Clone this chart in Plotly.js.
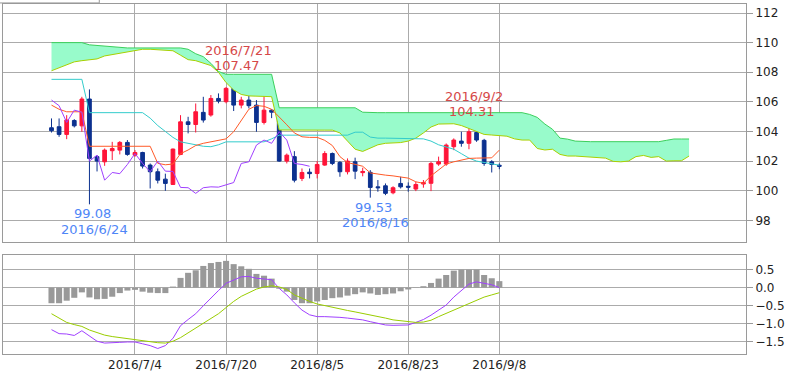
<!DOCTYPE html>
<html><head><meta charset="utf-8">
<script src="https://cdn.plot.ly/plotly-3.0.1.min.js"></script>
<style>html,body{margin:0;padding:0;background:#fff}#chart{width:793px;height:372px}</style>
</head><body><div id="chart"></div>
<script>
const dates = ['2016/6/17','2016/6/20','2016/6/21','2016/6/22','2016/6/23','2016/6/24','2016/6/27','2016/6/28','2016/6/29','2016/6/30',
 '2016/7/1','2016/7/4','2016/7/5','2016/7/6','2016/7/7','2016/7/8','2016/7/11','2016/7/12','2016/7/13','2016/7/14',
 '2016/7/15','2016/7/18','2016/7/19','2016/7/20','2016/7/21','2016/7/22','2016/7/25','2016/7/26','2016/7/27','2016/7/28',
 '2016/7/29','2016/8/1','2016/8/2','2016/8/3','2016/8/4','2016/8/5','2016/8/8','2016/8/9','2016/8/10','2016/8/11',
 '2016/8/12','2016/8/15','2016/8/16','2016/8/17','2016/8/18','2016/8/19','2016/8/22','2016/8/23','2016/8/24','2016/8/25',
 '2016/8/26','2016/8/29','2016/8/30','2016/8/31','2016/9/1','2016/9/2','2016/9/5','2016/9/6','2016/9/7','2016/9/8'];
const futureDates = ['2016/9/9','2016/9/12','2016/9/13','2016/9/14','2016/9/15','2016/9/16','2016/9/19','2016/9/20','2016/9/21','2016/9/22',
 '2016/9/23','2016/9/26','2016/9/27','2016/9/28','2016/9/29','2016/9/30','2016/10/3','2016/10/4','2016/10/5','2016/10/6',
 '2016/10/7','2016/10/10','2016/10/11','2016/10/12','2016/10/13'];

const open = [104.25,104.32,103.8,104.74,104.38,106.19,102.3,101.95,102.7,102.74,
 103.26,102.4,102.58,101.73,101.28,100.78,100.42,102.45,104.65,104.47,
 105.29,105.11,106.23,106.01,106.91,105.78,106.12,105.78,104.61,105.44,
 105.3,102.0,102.3,100.83,101.25,101.16,101.73,102.51,101.91,101.28,
 101.95,101.22,101.24,100.26,100.33,99.86,100.49,100.3,100.11,100.45,
 100.5,101.8,101.8,102.97,103.35,103.2,103.93,103.4,101.95,101.72];
const high = [104.88,104.88,105.1,104.83,106.34,106.84,102.4,102.85,103.3,103.35,
 103.42,102.74,102.63,101.84,101.5,101.15,102.85,105.1,104.99,105.89,
 106.34,106.46,106.57,107.0,107.47,106.34,106.68,106.12,106.46,105.51,
 105.38,102.51,102.67,101.5,101.5,102.0,102.67,102.58,102.0,102.18,
 102.23,101.55,101.39,100.72,100.49,100.3,100.94,100.56,100.6,100.72,
 101.95,102.3,103.19,103.53,103.98,104.31,104.1,103.5,102.06,101.84];
const low = [103.93,103.64,103.48,104.27,103.98,99.08,101.3,101.68,102.07,102.45,
 102.36,102.29,101.5,100.15,100.49,99.99,100.4,102.4,103.87,103.93,
 104.6,105.0,105.9,105.9,105.38,105.56,105.56,103.98,104.47,104.9,
 101.95,101.84,100.56,100.65,100.83,100.83,101.68,101.73,100.94,101.1,
 100.78,100.97,99.53,99.93,99.7,99.76,100.15,99.93,99.97,100.2,
 99.97,101.68,101.68,102.74,102.97,102.8,103.3,101.68,101.23,101.45];
const close = [104.05,103.8,104.77,104.38,106.19,102.18,102.0,102.74,102.85,103.26,
 102.45,102.58,101.66,101.28,100.71,100.49,102.81,104.65,104.47,105.33,
 104.77,106.23,106.05,106.91,105.78,106.12,105.74,104.61,105.44,105.3,
 102.0,102.4,100.71,101.23,101.15,101.77,102.51,101.84,101.28,102.0,
 101.32,101.3,100.22,100.2,99.82,100.2,100.26,100.24,100.42,100.55,
 101.84,101.95,103.08,103.42,103.2,103.98,103.42,101.84,101.77,101.65];

const conversionLine = [105.78,105.5,105.33,105.33,105.33,103.0,103.0,103.0,103.0,103.0,
 103.0,103.0,103.0,103.0,101.85,101.75,101.8,102.5,102.75,103.05,
 103.2,103.3,103.35,103.5,103.98,104.77,105.5,105.75,105.7,105.5,
 105.0,104.45,103.9,103.64,103.6,103.6,103.4,103.05,102.3,101.9,
 101.78,101.65,101.2,101.1,101.05,101.0,100.94,100.85,100.6,100.5,
 101.0,101.4,101.8,101.95,102.06,102.18,102.2,102.22,102.22,102.74];
const baseLine = [107.52,107.52,107.52,107.52,107.52,105.27,105.27,105.27,105.27,105.27,
 105.27,105.27,105.27,104.9,104.4,104.0,103.6,103.3,103.2,103.1,
 103.0,102.97,103.1,103.3,103.3,103.3,103.3,103.3,103.3,103.5,
 103.75,103.75,103.75,103.75,103.75,103.75,103.75,103.75,103.75,103.75,
 103.95,103.95,103.62,103.55,103.55,103.55,103.55,103.55,103.55,103.5,
 103.35,103.1,102.95,102.8,102.5,102.2,102.0,101.9,101.82,101.72];
const laggingSpan = [106.12,105.74,104.61,105.44,105.3,102.0,102.4,100.71,101.23,101.15,
 101.77,102.51,101.84,101.28,102.0,101.32,101.3,100.22,100.2,99.82,
 100.2,100.26,100.24,100.42,100.55,101.84,101.95,103.08,103.42,103.2,
 103.98,103.42,101.84,101.77,101.65];
const leadingSpanA = [110.0,110.0,110.0,110.0,110.0,109.85,109.8,109.75,109.7,109.65,
 109.64,109.64,109.64,109.64,109.64,109.64,109.64,109.64,109.55,109.25,
 109.05,108.6,108.05,107.86,107.86,107.86,107.86,107.86,107.86,107.86,
 105.6,105.6,105.6,105.6,105.6,105.6,105.6,105.6,105.6,105.6,
 105.6,105.3,105.27,105.27,105.27,105.27,105.27,105.27,105.27,105.27,
 105.27,105.27,105.27,105.27,105.27,105.27,105.27,105.27,105.27,105.27,
 105.27,105.27,105.27,105.15,104.95,104.5,104.15,103.55,103.48,103.35,
 103.31,103.31,103.31,103.31,103.31,103.31,103.31,103.31,103.31,103.31,
 103.31,103.4,103.49,103.49,103.49];
const leadingSpanB = [108.1,108.3,108.55,108.7,108.78,108.82,108.9,109.1,109.2,109.27,
 109.4,109.5,109.55,109.55,109.52,109.5,109.45,109.15,108.85,108.78,
 108.62,108.45,108.0,107.3,106.8,106.5,106.4,106.4,106.4,106.35,
 104.1,104.09,104.09,104.09,104.09,104.09,104.09,104.09,103.9,103.35,
 102.8,102.65,102.9,103.1,103.2,103.2,103.25,103.35,103.55,103.9,
 104.3,104.5,104.52,104.52,104.4,104.2,103.95,103.8,103.76,103.72,
 103.68,103.5,103.42,103.42,102.85,102.75,102.8,102.45,102.34,102.34,
 102.3,102.25,102.25,102.2,101.98,101.95,102.0,102.3,102.38,102.25,
 102.3,102.0,102.02,102.02,102.34];

const macdHist = [-0.43,-0.43,-0.36,-0.28,-0.13,-0.27,-0.32,-0.31,-0.25,-0.15,
 -0.08,-0.06,-0.11,-0.14,-0.15,-0.15,0.03,0.27,0.41,0.48,
 0.6,0.68,0.71,0.74,0.65,0.59,0.52,0.38,0.33,0.25,
 -0.03,-0.11,-0.34,-0.43,-0.43,-0.38,-0.34,-0.29,-0.27,-0.22,
 -0.18,-0.13,-0.16,-0.2,-0.18,-0.16,-0.1,-0.05,-0.01,0.04,
 0.13,0.25,0.35,0.47,0.5,0.5,0.5,0.35,0.26,0.18];
const macdLine = [-1.16,-1.27,-1.28,-1.32,-1.19,-1.33,-1.48,-1.53,-1.53,-1.51,
 -1.5,-1.5,-1.55,-1.6,-1.68,-1.6,-1.4,-1.05,-0.88,-0.72,
 -0.5,-0.28,-0.08,0.12,0.22,0.3,0.31,0.26,0.24,0.22,
 -0.02,-0.2,-0.42,-0.62,-0.75,-0.8,-0.8,-0.8,-0.82,-0.84,
 -0.86,-0.89,-0.94,-0.99,-1.03,-1.04,-1.03,-1.03,-0.96,-0.88,
 -0.76,-0.63,-0.48,-0.26,-0.08,0.1,0.16,0.11,0.08,0.0];
const signalLine = [-0.72,-0.85,-0.96,-1.02,-1.07,-1.17,-1.24,-1.31,-1.35,-1.38,
 -1.41,-1.44,-1.47,-1.49,-1.52,-1.53,-1.48,-1.38,-1.25,-1.12,
 -1.0,-0.85,-0.72,-0.55,-0.38,-0.24,-0.13,-0.04,0.02,0.05,
 0.02,-0.05,-0.2,-0.3,-0.38,-0.45,-0.5,-0.55,-0.59,-0.63,
 -0.67,-0.71,-0.75,-0.78,-0.84,-0.89,-0.92,-0.94,-0.96,-0.95,
 -0.9,-0.8,-0.71,-0.62,-0.52,-0.43,-0.33,-0.26,-0.2,-0.14];

const dateTicks = ['2016/7/4','2016/7/20','2016/8/5','2016/8/23','2016/9/8'];
const priceTicks = [98,100,102,104,106,108,110,112];
const macdTicks = [-1.5,-1.0,-0.5,0.0,0.5];
const extremeDates = ['2016/6/24','2016/7/21','2016/8/16','2016/9/2'];
const extremeValues = [99.08,107.47,99.53,104.31];
const extremeIsHigh = [false,true,false,true];

const allDates = dates.concat(futureDates);
const RED = '#ff1438', BLUE = '#0c318f';
const GRID = '#ababab', FRAME = '#9a9a9a';
const FONT = 'DejaVu Sans';

const traces = [
 {type:'scatter',mode:'lines',x:allDates,y:leadingSpanB,line:{color:'#a8d000',width:1},hoverinfo:'skip'},
 {type:'scatter',mode:'lines',x:allDates,y:leadingSpanA,line:{color:'#3ccf5c',width:1},fill:'tonexty',fillcolor:'#98fbcb',hoverinfo:'skip'},
 {type:'scatter',mode:'lines',x:dates,y:baseLine,line:{color:'#33cccc',width:1},hoverinfo:'skip'},
 {type:'scatter',mode:'lines',x:dates,y:conversionLine,line:{color:'#ff5a28',width:1},hoverinfo:'skip'},
 {type:'scatter',mode:'lines',x:dates.slice(0,laggingSpan.length),y:laggingSpan,line:{color:'#a040ff',width:1},hoverinfo:'skip'},
 {type:'candlestick',x:dates,open:open,high:high,low:low,close:close,
  increasing:{line:{color:RED,width:1},fillcolor:RED},
  decreasing:{line:{color:BLUE,width:1},fillcolor:BLUE},
  whiskerwidth:0,hoverinfo:'skip'},
 {type:'bar',x:dates,y:macdHist,marker:{color:'#999999'},xaxis:'x2',yaxis:'y2',hoverinfo:'skip'},
 {type:'scatter',mode:'lines',x:dates,y:macdLine,line:{color:'#a040ff',width:1},xaxis:'x2',yaxis:'y2',hoverinfo:'skip'},
 {type:'scatter',mode:'lines',x:dates,y:signalLine,line:{color:'#9acd00',width:1},xaxis:'x2',yaxis:'y2',hoverinfo:'skip'}
];

const annotations = [];
extremeDates.forEach((d,k)=>{
  const hi = extremeIsHigh[k];
  const col = hi ? '#d64848' : '#4f86f7';
  const v = extremeValues[k];
  annotations.push({xref:'x',yref:'y',x:d,y:v,text:v.toFixed(2),showarrow:false,
    xanchor:'center',yanchor:'middle',xshift:3,yshift:hi?15:-9.5,font:{family:FONT,size:13,color:col}});
  annotations.push({xref:'x',yref:'y',x:d,y:v,text:d,showarrow:false,
    xanchor:'center',yanchor:'middle',xshift:5,yshift:hi?30:-25,font:{family:FONT,size:13,color:col}});
});

const xBase = {type:'category',categoryorder:'array',categoryarray:allDates,range:[-6.39,91.5],
  tickmode:'array',tickvals:dateTicks,ticktext:dateTicks,showgrid:true,gridcolor:GRID,gridwidth:1,
  showline:true,mirror:true,linecolor:FRAME,linewidth:1,zeroline:false,ticks:'',fixedrange:true,
  rangeslider:{visible:false}};

const layout = {
  width:793,height:372,margin:{l:3,r:47,t:4,b:18},
  paper_bgcolor:'#fff',plot_bgcolor:'#fff',showlegend:false,hovermode:false,
  font:{family:FONT,size:12,color:'#222'},
  bargap:0.2,
  xaxis:Object.assign({},xBase,{domain:[0,1],anchor:'y',showticklabels:false}),
  yaxis:{domain:[0.32,1],anchor:'x',side:'right',range:[96.535,112.608],tickmode:'array',tickvals:priceTicks,
    ticks:'outside',ticklen:6,tickcolor:FRAME,showgrid:true,gridcolor:GRID,showline:true,mirror:true,
    linecolor:FRAME,zeroline:false,tickfont:{size:12,color:'#222'},fixedrange:true},
  xaxis2:Object.assign({},xBase,{domain:[0,1],anchor:'y2',showticklabels:true,ticklabelstandoff:0,tickfont:{size:12,color:'#222'}}),
  yaxis2:{domain:[0,0.28286],anchor:'x2',side:'right',range:[-1.832,0.902],tickmode:'array',tickvals:macdTicks,
    tickformat:'.1f',ticks:'outside',ticklen:6,tickcolor:FRAME,showgrid:true,gridcolor:GRID,showline:true,mirror:true,
    linecolor:FRAME,zeroline:false,tickfont:{size:12,color:'#222'},fixedrange:true},
  annotations:annotations,
  shapes:[{type:'rect',xref:'paper',yref:'paper',x0:-0.01,x1:0.1296,y0:1.003,y1:1.03,
    line:{color:FRAME,width:1},fillcolor:'#fff',layer:'above'}]
};

Plotly.newPlot('chart',traces,layout,{staticPlot:true,displayModeBar:false});
</script></body></html>
